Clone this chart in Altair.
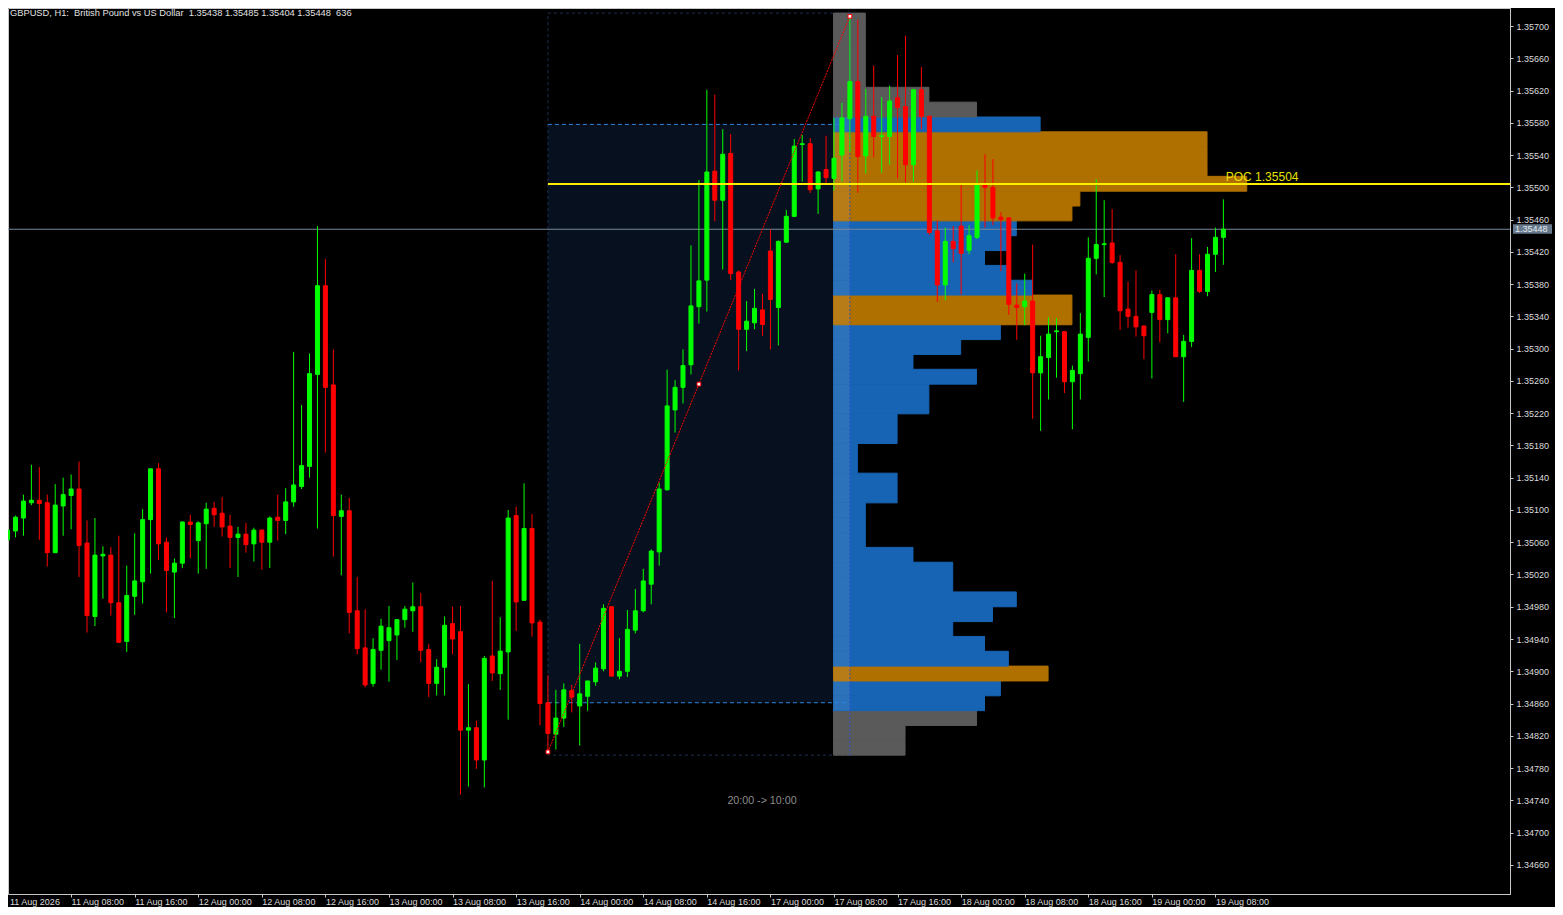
import json
import pandas as pd
import altair as alt

# ---------------- data ----------------
opens = [1.35063, 1.35074, 1.35090, 1.35109, 1.35112, 1.35109, 1.35047, 1.35105, 1.35118, 1.35126,
         1.35059, 1.34968, 1.35043, 1.35044, 1.34985, 1.34937, 1.34993, 1.35011, 1.35088, 1.35151,
         1.35060, 1.35023, 1.35034, 1.35085, 1.35062, 1.35083, 1.35102, 1.35096, 1.35080, 1.35066,
         1.35070, 1.35058, 1.35075, 1.35060, 1.35091, 1.35087, 1.35110, 1.35129, 1.35154, 1.35268,
         1.35378, 1.35255, 1.35092, 1.35099, 1.34975, 1.34929, 1.34885, 1.34926, 1.34938, 1.34945,
         1.34964, 1.34975, 1.34980, 1.34927, 1.34885, 1.34905, 1.34959, 1.34949, 1.34827, 1.34830,
         1.34790, 1.34919, 1.34897, 1.34924, 1.35093, 1.34988, 1.35077, 1.34961, 1.34861, 1.34822,
         1.34842, 1.34876, 1.34857, 1.34869, 1.34887, 1.34903, 1.34980, 1.34894, 1.34900, 1.34951,
         1.34975, 1.35008, 1.35048, 1.35125, 1.35224, 1.35252, 1.35280, 1.35352, 1.35385, 1.35520,
         1.35484, 1.35542, 1.35395, 1.35324, 1.35332, 1.35348, 1.35421, 1.35351, 1.35432, 1.35464,
         1.35553, 1.35554, 1.35498, 1.35522, 1.35511, 1.35540, 1.35585, 1.35631, 1.35539, 1.35588,
         1.35563, 1.35563, 1.35611, 1.35600, 1.35528, 1.35621, 1.35588, 1.35446, 1.35379, 1.35433,
         1.35452, 1.35422, 1.35438, 1.35503, 1.35500, 1.35463, 1.35462, 1.35354, 1.35352, 1.35359,
         1.35270, 1.35289, 1.35321, 1.35321, 1.35259, 1.35269, 1.35314, 1.35412, 1.35429, 1.35431,
         1.35407, 1.35349, 1.35340, 1.35328, 1.35345, 1.35367, 1.35336, 1.35363, 1.35290, 1.35309,
         1.35397, 1.35371, 1.35417, 1.35438]
highs = [1.35077, 1.35093, 1.35119, 1.35156, 1.35153, 1.35119, 1.35132, 1.35140, 1.35144, 1.35160,
         1.35087, 1.35090, 1.35055, 1.35054, 1.35068, 1.35031, 1.35071, 1.35101, 1.35151, 1.35158,
         1.35066, 1.35040, 1.35086, 1.35094, 1.35086, 1.35109, 1.35110, 1.35116, 1.35094, 1.35079,
         1.35084, 1.35078, 1.35076, 1.35092, 1.35119, 1.35127, 1.35296, 1.35230, 1.35294, 1.35452,
         1.35411, 1.35299, 1.35119, 1.35115, 1.35017, 1.34977, 1.34941, 1.34965, 1.34981, 1.34964,
         1.34981, 1.35010, 1.34997, 1.34934, 1.34915, 1.34968, 1.34980, 1.34981, 1.34884, 1.34839,
         1.34919, 1.35012, 1.34967, 1.35100, 1.35104, 1.35133, 1.35095, 1.34964, 1.34895, 1.34877,
         1.34885, 1.34883, 1.34934, 1.34888, 1.34911, 1.34983, 1.34981, 1.34941, 1.34976, 1.35002,
         1.35027, 1.35051, 1.35134, 1.35274, 1.35261, 1.35299, 1.35428, 1.35509, 1.35621, 1.35615,
         1.35572, 1.35566, 1.35397, 1.35359, 1.35374, 1.35368, 1.35448, 1.35434, 1.35472, 1.35560,
         1.35565, 1.35561, 1.35520, 1.35564, 1.35586, 1.35605, 1.35712, 1.35708, 1.35622, 1.35651,
         1.35612, 1.35626, 1.35664, 1.35688, 1.35621, 1.35649, 1.35589, 1.35459, 1.35450, 1.35452,
         1.35503, 1.35453, 1.35521, 1.35541, 1.35535, 1.35469, 1.35463, 1.35381, 1.35393, 1.35429,
         1.35316, 1.35339, 1.35338, 1.35322, 1.35279, 1.35344, 1.35438, 1.35510, 1.35484, 1.35473,
         1.35416, 1.35383, 1.35397, 1.35329, 1.35372, 1.35373, 1.35364, 1.35417, 1.35317, 1.35437,
         1.35417, 1.35426, 1.35450, 1.35485]
lows = [1.35062, 1.35066, 1.35068, 1.35106, 1.35063, 1.35030, 1.35047, 1.35068, 1.35076, 1.35017,
        1.34948, 1.34956, 1.34990, 1.34969, 1.34935, 1.34924, 1.34970, 1.34984, 1.35021, 1.35038,
        1.34973, 1.34966, 1.35028, 1.35040, 1.35021, 1.35027, 1.35079, 1.35067, 1.35028, 1.35017,
        1.35047, 1.35036, 1.35026, 1.35028, 1.35062, 1.35070, 1.35104, 1.35126, 1.35140, 1.35077,
        1.35171, 1.35042, 1.35019, 1.34947, 1.34921, 1.34880, 1.34881, 1.34902, 1.34887, 1.34914,
        1.34954, 1.34949, 1.34911, 1.34868, 1.34870, 1.34870, 1.34921, 1.34747, 1.34757, 1.34779,
        1.34756, 1.34888, 1.34877, 1.34840, 1.34950, 1.34988, 1.34943, 1.34833, 1.34800, 1.34803,
        1.34831, 1.34849, 1.34808, 1.34851, 1.34882, 1.34900, 1.34894, 1.34890, 1.34893, 1.34947,
        1.34973, 1.34983, 1.35031, 1.35124, 1.35196, 1.35232, 1.35268, 1.35331, 1.35346, 1.35458,
        1.35398, 1.35385, 1.35273, 1.35297, 1.35324, 1.35316, 1.35299, 1.35304, 1.35431, 1.35463,
        1.35507, 1.35493, 1.35467, 1.35505, 1.35496, 1.35507, 1.35544, 1.35493, 1.35517, 1.35537,
        1.35518, 1.35528, 1.35511, 1.35506, 1.35507, 1.35572, 1.35441, 1.35358, 1.35360, 1.35407,
        1.35367, 1.35417, 1.35436, 1.35450, 1.35453, 1.35396, 1.35342, 1.35311, 1.35329, 1.35213,
        1.35198, 1.35237, 1.35264, 1.35245, 1.35200, 1.35237, 1.35284, 1.35392, 1.35364, 1.35405,
        1.35323, 1.35326, 1.35315, 1.35287, 1.35263, 1.35308, 1.35319, 1.35290, 1.35234, 1.35302,
        1.35369, 1.35365, 1.35395, 1.35404]
closes = [1.35075, 1.35091, 1.35111, 1.35112, 1.35108, 1.35047, 1.35106, 1.35119, 1.35126, 1.35056,
          1.34969, 1.35044, 1.35045, 1.34985, 1.34936, 1.34994, 1.35012, 1.35088, 1.35151, 1.35058,
          1.35025, 1.35034, 1.35085, 1.35082, 1.35084, 1.35101, 1.35094, 1.35079, 1.35066, 1.35070,
          1.35057, 1.35075, 1.35060, 1.35090, 1.35087, 1.35110, 1.35131, 1.35155, 1.35269, 1.35378,
          1.35252, 1.35093, 1.35099, 1.34973, 1.34928, 1.34883, 1.34927, 1.34956, 1.34954, 1.34964,
          1.34977, 1.34980, 1.34926, 1.34885, 1.34905, 1.34957, 1.34940, 1.34827, 1.34830, 1.34790,
          1.34916, 1.34898, 1.34925, 1.35090, 1.34986, 1.35077, 1.34960, 1.34860, 1.34823, 1.34842,
          1.34877, 1.34868, 1.34872, 1.34888, 1.34904, 1.34978, 1.34894, 1.34900, 1.34952, 1.34975,
          1.35012, 1.35049, 1.35126, 1.35229, 1.35252, 1.35279, 1.35353, 1.35384, 1.35519, 1.35484,
          1.35541, 1.35393, 1.35324, 1.35334, 1.35350, 1.35330, 1.35361, 1.35433, 1.35464, 1.35551,
          1.35554, 1.35497, 1.35519, 1.35512, 1.35536, 1.35586, 1.35631, 1.35538, 1.35588, 1.35563,
          1.35564, 1.35607, 1.35599, 1.35528, 1.35621, 1.35588, 1.35444, 1.35379, 1.35433, 1.35424,
          1.35418, 1.35440, 1.35503, 1.35500, 1.35462, 1.35460, 1.35355, 1.35351, 1.35359, 1.35270,
          1.35290, 1.35318, 1.35322, 1.35259, 1.35273, 1.35318, 1.35412, 1.35429, 1.35430, 1.35407,
          1.35347, 1.35340, 1.35327, 1.35316, 1.35367, 1.35336, 1.35363, 1.35290, 1.35309, 1.35397,
          1.35371, 1.35417, 1.35438, 1.35448]

# x-axis labels, one every 8 bars starting at bar 0
x_tick_labels = ["11 Aug 2026", "11 Aug 08:00", "11 Aug 16:00", "12 Aug 00:00", "12 Aug 08:00",
                 "12 Aug 16:00", "13 Aug 00:00", "13 Aug 08:00", "13 Aug 16:00", "14 Aug 00:00",
                 "14 Aug 08:00", "14 Aug 16:00", "17 Aug 00:00", "17 Aug 08:00", "17 Aug 16:00",
                 "18 Aug 00:00", "18 Aug 08:00", "18 Aug 16:00", "19 Aug 00:00", "19 Aug 08:00"]
bars_per_tick = 8
y_tick_values = [1.3466, 1.3470, 1.3474, 1.3478, 1.3482, 1.3486, 1.3490, 1.3494, 1.3498,
                 1.3502, 1.3506, 1.3510, 1.3514, 1.3518, 1.3522, 1.3526, 1.3530, 1.3534,
                 1.3538, 1.3542, 1.3546, 1.3550, 1.3554, 1.3558, 1.3562, 1.3566, 1.3570]

# volume profile (bottom bin first)
profile_volume = [18, 18, 36, 38, 42, 54, 44, 38, 30, 40, 46, 30, 30, 20, 8, 8, 8, 16, 16, 6,
                  6, 16, 16, 24, 24, 36, 20, 32, 42, 60, 60, 50, 44, 38, 44, 46, 60, 62, 104, 94,
                  94, 94, 52, 36, 24, 8, 8, 8, 8, 8]
profile_zone = (["out"] * 3 + ["va"] * 2 + ["hvn"] + ["va"] * 23 + ["hvn"] * 2 + ["va"] * 5
                + ["hvn"] * 6 + ["va"] + ["out"] * 7)
profile_low = 1.34796
profile_step = 0.000184
profile_start = 103.94          # bar position where the histogram starts (17 Aug 08:00)
bars_per_volume = 0.5

sel_start, sel_end = 68, 106     # 13 Aug 20:00 -> 17 Aug 10:00
swing_low, swing_high = 1.34800, 1.35712
vah, val = 1.35578, 1.34861
poc = 1.35504
bid = closes[-1]

# ---------------- styling ----------------
FONT = "Liberation Sans"
GREEN, RED = "#00ff00", "#ff0000"
AXC, LBL = "#c8c8c8", "#dcdcdc"
W, H = 1502, 886
X_DOMAIN = [0.6875, 188.4375]
Y_DOMAIN = [1.34623878, 1.35722316]

xscale = alt.Scale(domain=X_DOMAIN, nice=False, zero=False)
yscale = alt.Scale(domain=Y_DOMAIN, nice=False, zero=False)
xaxis = alt.Axis(values=[bars_per_tick * k for k in range(1, len(x_tick_labels))],
                 labelExpr=f"{json.dumps(x_tick_labels)}[round(datum.value / {bars_per_tick})]",
                 title=None, grid=False, orient="bottom", tickSize=3, tickColor=AXC,
                 domainColor=AXC, labelColor=LBL, labelFont=FONT, labelFontSize=9,
                 labelAlign="left", labelBaseline="alphabetic", labelPadding=7.8,
                 labelOverlap=False, labelFlush=False)
yaxis = alt.Axis(values=y_tick_values, format=".5f", title=None, grid=False, orient="right",
                 tickSize=3, tickColor=AXC, domainColor=AXC, labelColor=LBL, labelFont=FONT,
                 labelFontSize=9, labelAlign="left", labelBaseline="middle", labelPadding=3,
                 labelOverlap=False, labelFlush=False)


def X(f):
    return alt.X(f, type="quantitative", scale=xscale, axis=xaxis)


def Y(f):
    return alt.Y(f, type="quantitative", scale=yscale, axis=yaxis)


n = len(opens)
candles = pd.DataFrame({"i": list(range(n)), "o": opens, "h": highs, "l": lows, "c": closes})
candles["top"] = candles[["o", "c"]].max(axis=1)
candles["bot"] = candles[["o", "c"]].min(axis=1)
candles["col"] = [GREEN if c >= o else RED for o, c in zip(opens, closes)]

zone_color = {"out": "#5a5a5a", "va": "#1864b4", "hvn": "#b07000"}
prof = pd.DataFrame({"vol": profile_volume, "zone": profile_zone})
prof["lo"] = [profile_low + k * profile_step for k in range(len(prof))]
prof["hi"] = prof["lo"] + profile_step
prof["x"] = profile_start
prof["x2"] = profile_start + prof["vol"] * bars_per_volume
prof["col"] = prof["zone"].map(zone_color)
prof_in = prof[prof["zone"] != "out"].copy()
prof_in["x2s"] = sel_end

sel = pd.DataFrame({"x": [sel_start], "x2": [sel_end], "vah": [vah], "val": [val],
                    "lo": [profile_low], "hi": [profile_low + profile_step * len(profile_volume)]})
va_lines = pd.DataFrame({"x": [sel_start, sel_start], "x2": [sel_end, sel_end], "p": [vah, val]})
diag = pd.DataFrame({"x": [sel_start], "x2": [sel_end], "y": [swing_low], "y2": [swing_high]})
markers = pd.DataFrame({"x": [sel_start, (sel_start + sel_end) / 2, sel_end],
                        "y": [swing_low, (swing_low + swing_high) / 2, swing_high]})
poc_df = pd.DataFrame({"x": [sel_start], "p": [poc], "lx": [n - 1 + 0.3],
                       "t": [f"POC {poc:.5f}"]})
bid_df = pd.DataFrame({"p": [bid], "t": [f"{bid:.5f}"]})
title_txt = (f"GBPUSD, H1:\u00a0 British Pound vs US Dollar\u00a0 {opens[-1]:.5f} {highs[-1]:.5f} "
             f"{lows[-1]:.5f} {closes[-1]:.5f}\u00a0 636")
title_df = pd.DataFrame({"t": [title_txt]})
first_lbl = pd.DataFrame({"t": [x_tick_labels[0]]})
range_df = pd.DataFrame({"x": [94.94], "p": [1.347354], "t": ["20:00 -> 10:00"]})

layers = []
# selection background (value area)
layers.append(alt.Chart(sel).mark_rect(color="#06101e").encode(
    x=X("x"), x2="x2", y=Y("val"), y2="vah"))
# outer dashed box
layers.append(alt.Chart(sel).mark_rect(filled=False, color="#1c3152", strokeDash=[3, 3],
                                       strokeWidth=1).encode(x=X("x"), x2="x2", y=Y("lo"), y2="hi"))
# volume profile
layers.append(alt.Chart(prof).mark_rect(strokeWidth=1).encode(
    x=X("x"), x2="x2", y=Y("lo"), y2="hi",
    color=alt.Color("col:N", scale=None), stroke=alt.Stroke("col:N", scale=None)))
layers.append(alt.Chart(prof_in).mark_rect(color="#ffffff", opacity=0.09).encode(
    x=X("x"), x2="x2s", y=Y("lo"), y2="hi"))
# value area high/low lines
layers.append(alt.Chart(va_lines).mark_rule(color="#2d86e0", strokeDash=[4, 3], strokeWidth=1).encode(
    x=X("x"), x2="x2", y=Y("p")))
# vertical dashed line at selection end
layers.append(alt.Chart(sel).mark_rule(color="#2a50d0", strokeDash=[2, 2], strokeWidth=1).encode(
    x=X("x2"), y=Y("lo"), y2="hi"))
# bid line
layers.append(alt.Chart(bid_df).mark_rule(color="#778899", strokeWidth=1).encode(
    x=alt.value(0), x2=alt.value(W), y=Y("p")))
# candles
layers.append(alt.Chart(candles).mark_rule(strokeWidth=1).encode(
    x=X("i"), y=Y("l"), y2="h", color=alt.Color("col:N", scale=None)))
layers.append(alt.Chart(candles).mark_bar(size=4, strokeWidth=1, orient="vertical").encode(
    x=X("i"), y=Y("bot"), y2="top",
    color=alt.Color("col:N", scale=None), stroke=alt.Stroke("col:N", scale=None)))
# POC line and label
layers.append(alt.Chart(poc_df).mark_rule(color="#ffee00", strokeWidth=2).encode(
    x=X("x"), x2=alt.value(W), y=Y("p")))
layers.append(alt.Chart(poc_df).mark_text(color="#e6e000", font=FONT, fontSize=12, align="left",
                                          baseline="alphabetic", dy=-3).encode(
    x=X("lx"), y=Y("p"), text="t:N"))
# swing line with anchor points
layers.append(alt.Chart(diag).mark_rule(color="#ff0000", strokeDash=[2, 1], strokeWidth=1).encode(
    x=X("x"), x2="x2", y=Y("y"), y2="y2"))
layers.append(alt.Chart(markers).mark_square(size=14, filled=True, color="#ffffff",
                                             stroke="#ff0000", strokeWidth=1, opacity=1).encode(
    x=X("x"), y=Y("y")))
# range text
layers.append(alt.Chart(range_df).mark_text(color="#8c8c8c", font=FONT, fontSize=10.7,
                                            align="center", baseline="alphabetic").encode(
    x=X("x"), y=Y("p"), text="t:N"))
# bid price box on the axis
layers.append(alt.Chart(bid_df).mark_rect(color="#66798c", yOffset=-5, y2Offset=4.5).encode(
    x=alt.value(W + 3), x2=alt.value(W + 42), y=Y("p"), y2="p"))
layers.append(alt.Chart(bid_df).mark_text(color="#e4e9ee", font=FONT, fontSize=9, align="left",
                                          baseline="middle").encode(
    x=alt.value(W + 5), y=Y("p"), text="t:N"))
# title and first date label
layers.append(alt.Chart(title_df).mark_text(color="#e0e0e0", font=FONT, fontSize=9.3, align="left",
                                            baseline="alphabetic").encode(
    x=alt.value(2), y=alt.value(7.5), text="t:N"))
layers.append(alt.Chart(first_lbl).mark_text(color=LBL, font=FONT, fontSize=9, align="left",
                                             baseline="alphabetic").encode(
    x=alt.value(2), y=alt.value(H + 10.8), text="t:N"))

chart = alt.layer(*layers).properties(
    width=W, height=H,
    autosize=alt.AutoSizeParams(type="none"),
    padding={"left": 0, "top": 0, "right": 45, "bottom": 13},
    background="#000000",
).configure_view(stroke=AXC, strokeWidth=1, fill="#000000")

chart.save("out.html", embed_options={"renderer": "svg", "actions": False})
